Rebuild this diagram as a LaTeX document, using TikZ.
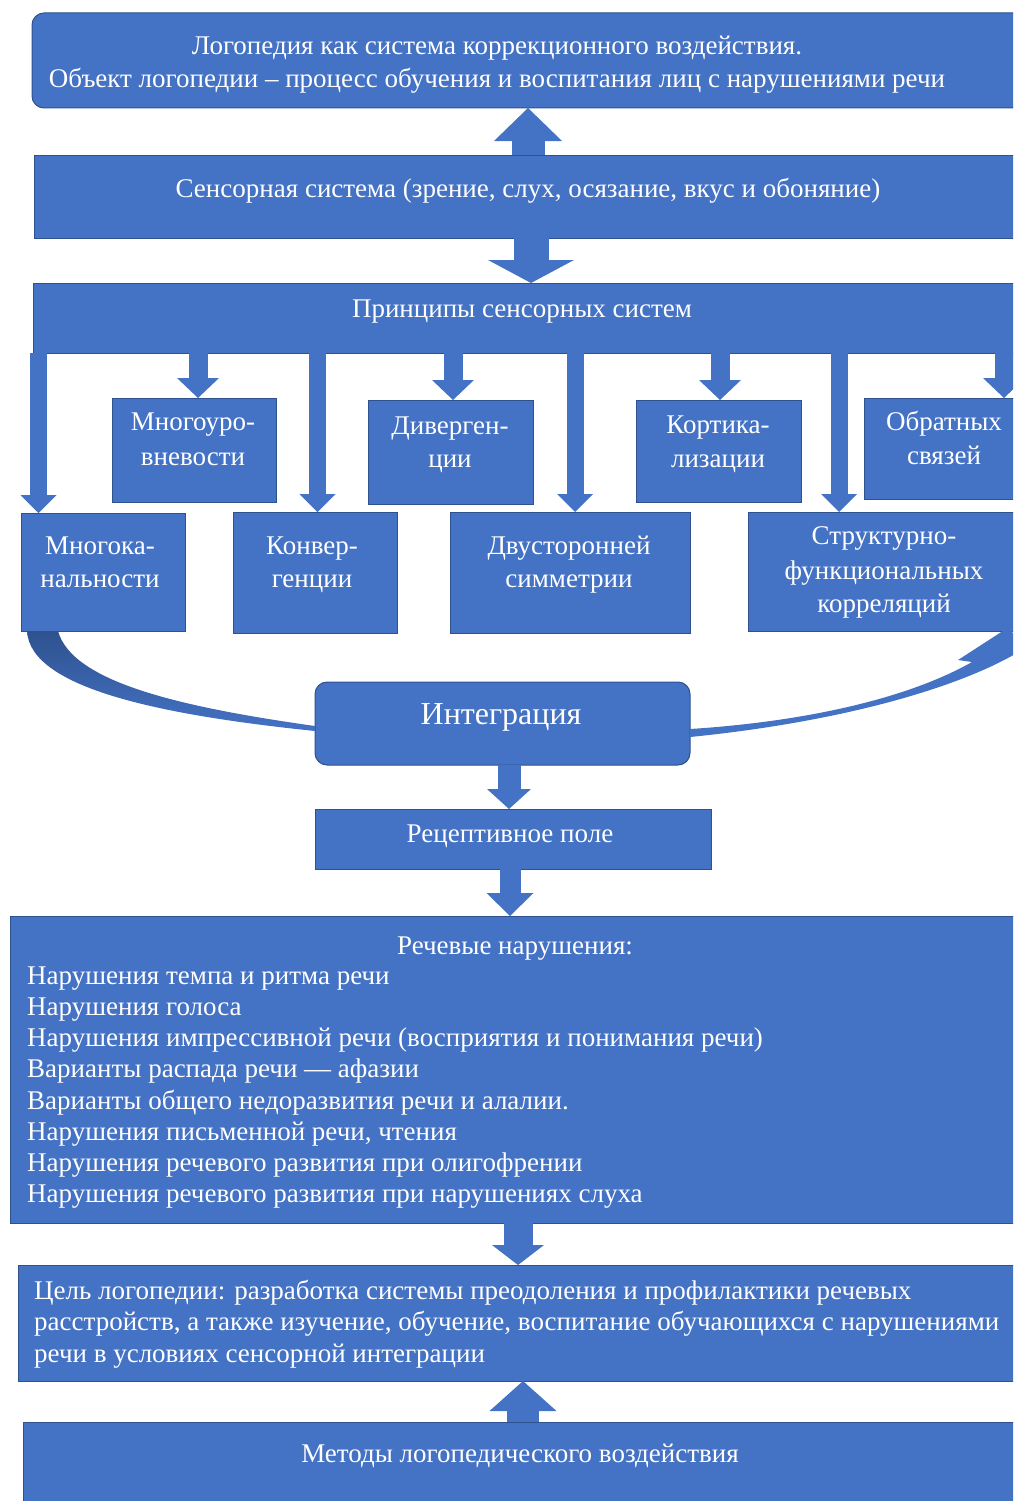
\documentclass[tikz,border=0pt]{standalone}
\usepackage{fontspec}
\setmainfont{Liberation Serif}
\usetikzlibrary{arrows.meta,calc}
\definecolor{bfill}{HTML}{4472C4}
\definecolor{bline}{HTML}{2F528F}
\tikzset{
  box/.style={draw=bline, line width=1pt, fill=bfill, inner sep=0pt, outer sep=0pt},
  rbox/.style={box, rounded corners=12pt},
  lbl/.style={text=white, inner sep=0pt, font=\fontsize{27}{31}\selectfont, anchor=mid, yshift=-5pt},
  lbll/.style={lbl, anchor=mid west},
  biglbl/.style={lbl, font=\fontsize{32}{36}\selectfont, yshift=-2pt},
  bigarrow/.style n args={3}{draw=bfill, line width=#1, -{Triangle[width=#2, length=#3, line width=0pt]}},
}
\newcommand\mkbox[6][box]{\node[#1, minimum width={(#5-#3)*1pt}, minimum height={(#6-#4)*1pt}] (#2) at ({(#3+#5)/2},{(#4+#6)/2}) {};}
\begin{document}
\begin{tikzpicture}[x=1pt,y=-1pt]
\useasboundingbox (0,0) rectangle (1013,1501);
\clip (0,0) rectangle (1013,1501);
% boxes
\mkbox[rbox]{b1}{32}{13}{1040}{108}
\mkbox{b2}{34}{155}{1022}{238}
\mkbox{b3}{33}{283}{1025}{353}
\mkbox{mu}{112}{398}{276}{502}
\mkbox{dv}{368}{400}{533}{504}
\mkbox{kt}{636}{400}{801}{502}
\mkbox{ob}{864}{398}{1030}{499}
\mkbox{mk}{21}{513}{185}{631}
\mkbox{kv}{233}{512}{397}{633}
\mkbox{ds}{450}{512}{690}{633}
\mkbox{sf}{748}{512}{1030}{631}
\mkbox[rbox]{int}{315}{682}{690}{765}
\mkbox{rp}{315}{809}{711}{869}
\mkbox{rn}{10}{916}{1030}{1223}
\mkbox{cl}{18}{1265}{1030}{1381}
\mkbox{mt}{23}{1422}{1030}{1520}
% arrow x positions
\coordinate (xa) at (528,0);
\coordinate (xb) at (531,0);
\coordinate (x1) at (38.5,0);
\coordinate (x2) at (198,0);
\coordinate (x3) at (317.5,0);
\coordinate (x4) at (453,0);
\coordinate (x5) at (575,0);
\coordinate (x6) at (720,0);
\coordinate (x7) at (839,0);
\coordinate (x8) at (1004,0);
\coordinate (xc) at (509,0);
\coordinate (xd) at (510,0);
\coordinate (xe) at (518,0);
\coordinate (xf) at (523,0);
% main block arrows
\draw[bigarrow={33pt}{68pt}{33pt}] (b2.north -| xa) -- (b1.south -| xa);
\draw[bigarrow={35pt}{86pt}{23pt}] (b2.south -| xb) -- (b3.north -| xb);
\draw[bigarrow={23pt}{44pt}{20pt}] (int.south -| xc) -- (rp.north -| xc);
\draw[bigarrow={21pt}{47pt}{23pt}] (rp.south -| xd) -- (rn.north -| xd);
\draw[bigarrow={29pt}{52pt}{20pt}] (rn.south -| xe) -- (cl.north -| xe);
\draw[bigarrow={32pt}{67pt}{30pt}] (mt.north -| xf) -- (cl.south -| xf);
% principle arrows
\draw[bigarrow={17pt}{36pt}{18pt}] (b3.south -| x1) -- (mk.north -| x1);
\draw[bigarrow={19pt}{42pt}{20pt}] (b3.south -| x2) -- (mu.north -| x2);
\draw[bigarrow={17pt}{36pt}{18pt}] (b3.south -| x3) -- (kv.north -| x3);
\draw[bigarrow={19pt}{42pt}{20pt}] (b3.south -| x4) -- (dv.north -| x4);
\draw[bigarrow={17pt}{36pt}{18pt}] (b3.south -| x5) -- (ds.north -| x5);
\draw[bigarrow={19pt}{42pt}{20pt}] (b3.south -| x6) -- (kt.north -| x6);
\draw[bigarrow={17pt}{36pt}{18pt}] (b3.south -| x7) -- (sf.north -| x7);
\draw[bigarrow={19pt}{42pt}{20pt}] (b3.south -| x8) -- (ob.north -| x8);
% curved arrows
\shade[top color=bline, bottom color=bfill] ([xshift=6pt]mk.south west) .. controls (30,690) and (170,716) .. ([yshift=-7.5pt]int.west)
  -- ([yshift=-2.5pt]int.west) .. controls (180,707) and (72,682) .. ([xshift=37pt]mk.south west) -- cycle;
\fill[bfill] ([yshift=-13.5pt]int.east) .. controls (840,722) and (960,688) .. (1022,650) -- (1035,668) -- (1009,627) -- (958,660)
  -- (972,662) .. controls (905,700) and (800,722) .. ([yshift=-5.5pt]int.east) -- cycle;
% texts
\node[lbl] (t1a) at (497,47) {Логопедия как система коррекционного воздействия.};
\node[lbl] (t1b) at (497,80) {Объект логопедии – процесс обучения и воспитания лиц с нарушениями речи};
\node[lbl] (t2) at (528,190) {Сенсорная система (зрение, слух, осязание, вкус и обоняние)};
\node[lbl] (t3) at (522,310) {Принципы сенсорных систем};
\node[lbl] (tmu1) at (193,423) {Многоуро-};
\node[lbl] (tmu2) at (193,458) {вневости};
\node[lbl] (tdv1) at (450,427) {Диверген-};
\node[lbl] (tdv2) at (450,460) {ции};
\node[lbl] (tkt1) at (718,426) {Кортика-};
\node[lbl] (tkt2) at (718,460) {лизации};
\node[lbl] (tob1) at (944,423) {Обратных};
\node[lbl] (tob2) at (944,457) {связей};
\node[lbl] (tmk1) at (100,547) {Многока-};
\node[lbl] (tmk2) at (100,580) {нальности};
\node[lbl] (tkv1) at (312,547) {Конвер-};
\node[lbl] (tkv2) at (312,580) {генции};
\node[lbl] (tds1) at (569,547) {Двусторонней};
\node[lbl] (tds2) at (569,580) {симметрии};
\node[lbl] (tsf1) at (884,537) {Структурно-};
\node[lbl] (tsf2) at (884,572) {функциональных};
\node[lbl] (tsf3) at (884,605) {корреляций};
\node[biglbl] (tint) at (501,715) {Интеграция};
\node[lbl] (trp) at (510,835) {Рецептивное поле};
\node[lbl] (trn) at (515,947) {Речевые нарушения:};
\node[lbll] (r1) at (27,977) {Нарушения темпа и ритма речи};
\node[lbll] (r2) at (27,1008.2) {Нарушения голоса};
\node[lbll] (r3) at (27,1039.4) {Нарушения импрессивной речи (восприятия и понимания речи)};
\node[lbll] (r4) at (27,1070.6) {Варианты распада речи — афазии};
\node[lbll] (r5) at (27,1101.8) {Варианты общего недоразвития речи и алалии.};
\node[lbll] (r6) at (27,1133) {Нарушения письменной речи, чтения};
\node[lbll] (r7) at (27,1164.2) {Нарушения речевого развития при олигофрении};
\node[lbll] (r8) at (27,1195.4) {Нарушения речевого развития при нарушениях слуха};
\node[lbll] (c1) at (34,1292) {Цель логопедии: разработка системы преодоления и профилактики речевых};
\node[lbll] (c2) at (34,1323) {расстройств, а также изучение, обучение, воспитание обучающихся с нарушениями};
\node[lbll] (c3) at (34,1355) {речи в условиях сенсорной интеграции};
\node[lbl] (tmt) at (520,1455) {Методы логопедического воздействия};
\end{tikzpicture}
\end{document}
